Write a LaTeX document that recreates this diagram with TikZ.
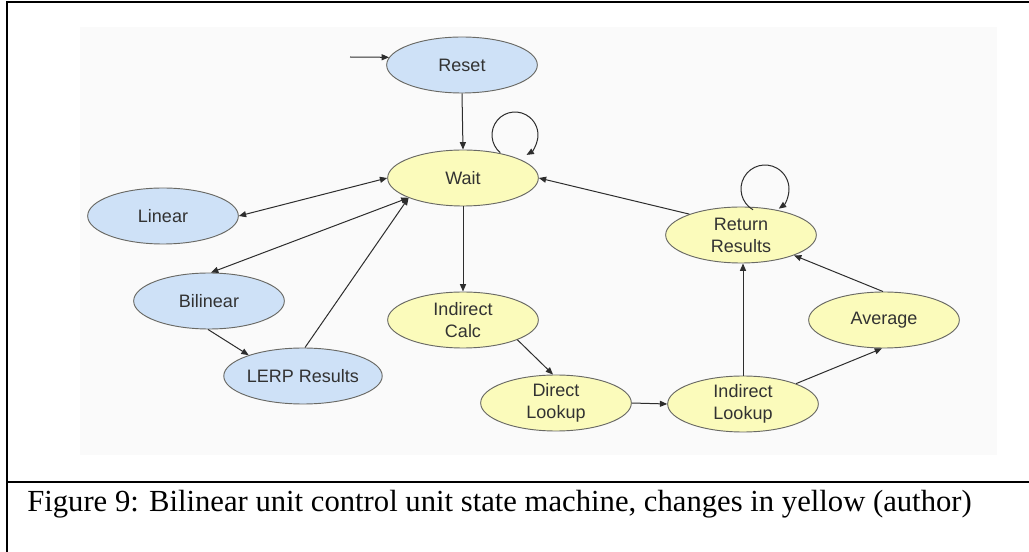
\documentclass[tikz,border=0pt]{standalone}
\usepackage{fontspec}
\setmainfont{Liberation Serif}
\newfontfamily\statefont{Liberation Sans}
\usetikzlibrary{shapes.geometric,arrows.meta}

\definecolor{bluefill}{RGB}{206,225,247}
\definecolor{yellowfill}{RGB}{251,251,187}
\definecolor{rimgray}{RGB}{105,105,100}
\definecolor{linegray}{RGB}{45,45,45}
\definecolor{labelgray}{RGB}{50,50,50}
\definecolor{panel}{RGB}{250,250,250}

\tikzset{
  state/.style={ellipse, draw=rimgray, line width=0.7pt,
    minimum width=113pt, minimum height=42pt, inner sep=0pt,
    align=center, text=labelgray,
    font=\statefont\fontsize{13.5}{16.5}\selectfont},
  oldstate/.style={state, fill=bluefill},
  newstate/.style={state, fill=yellowfill},
  conn/.style={draw=linegray, line width=0.75pt},
  >={Triangle[length=5.5pt,width=4.5pt]},
  frameline/.style={draw=black, line width=1.3pt}
}

\begin{document}
\begin{tikzpicture}[x=0.75pt,y=-0.75pt]
  \useasboundingbox (0,0) rectangle (1029,552);
  \fill[white] (0,0) rectangle (1029,552);

  % figure frame and caption rule
  \draw[frameline] (1029,2) -- (7,2) -- (7,552);
  \draw[frameline] (7,482) -- (1029,482);

  % diagram panel
  \fill[panel] (80,27) rectangle (997,455);

  % states
  \node[oldstate] (reset)   at (462,65)  {Reset};
  \node[newstate] (wait)    at (463,178) {Wait};
  \node[oldstate] (linear)  at (163,216) {Linear};
  \node[oldstate] (bilin)   at (209,301) {Bilinear};
  \node[oldstate] (lerp)    at (303,376) {LERP Results};
  \node[newstate] (icalc)   at (463,320) {Indirect\\Calc};
  \node[newstate] (dlookup) at (556,403) {Direct\\Lookup};
  \node[newstate] (ilookup) at (743,404) {Indirect\\Lookup};
  \node[newstate] (avg)     at (884,320) {Average};
  \node[newstate] (ret)     at (741,235) {Return\\Results};

  % entry point
  \coordinate (start) at (350,57);
  \draw[conn,->] (start) -- (reset.174);

  % transitions
  \draw[conn,->]  (reset.south) -- (wait.north);
  \draw[conn,<->] (linear.east) -- (wait.west);
  \draw[conn,<->] (bilin.86) -- (wait.200);
  \draw[conn,->]  (bilin.268) -- (lerp.159);
  \draw[conn,->]  (lerp.86) -- (wait.200);
  \draw[conn,->]  (wait.south) -- (icalc.north);
  \draw[conn,->]  (icalc.-20) -- (dlookup.96);
  \draw[conn,->]  (dlookup.east) -- (ilookup.west);
  \draw[conn,->]  (ilookup.north) -- (ilookup.north |- ret.south);
  \draw[conn,->]  (ilookup.21) -- (avg.266);
  \draw[conn,->]  (avg.92) -- (ret.-21);
  \draw[conn,->]  (ret.158) -- (wait.east);

  % self loops
  \coordinate (waitloop) at (515,135);
  \draw[conn,->] ([shift={(130:23)}]waitloop) arc[start angle=130, end angle=420, radius=23];
  \coordinate (retloop) at (765,189);
  \draw[conn,->] ([shift={(120:24)}]retloop) arc[start angle=120, end angle=415, radius=24];

  % caption
  \node[anchor=base west, inner sep=0pt, font=\fontsize{23}{27}\selectfont] (caption) at (27,511)
    {Figure 9: Bilinear unit control unit state machine, changes in yellow (author)};
\end{tikzpicture}
\end{document}
